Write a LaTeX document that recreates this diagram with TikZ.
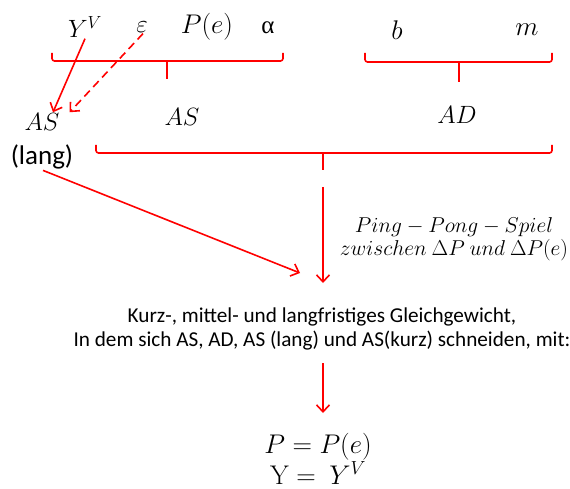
\documentclass[tikz,border=0pt]{standalone}
\usepackage{fix-cm}
\usepackage[no-math]{fontspec}
\setmainfont{Carlito}
\newfontfamily\grkfont{Liberation Serif}
\usetikzlibrary{arrows.meta, calc}

\begin{document}
\begin{tikzpicture}[
        x=1pt, y=-1pt,
        >=Stealth,
        % Styles
        var/.style={inner sep=1pt, font=\fontsize{25}{28}\selectfont},
        small_var/.style={inner sep=1pt, font=\fontsize{21.5}{23}\selectfont, align=center},
        txt/.style={inner sep=1pt, font=\fontsize{21.2}{24}\selectfont, align=center},
        brace/.style={draw=red, line width=1.6pt, rounded corners=2.5pt},
        arrow/.style={-{Straight Barb[length=7pt, width=13pt]}, line width=1.6pt, draw=red}
    ]
    \useasboundingbox (0,0) rectangle (570,489);

    % Exogenous variables (top row)
    \node[var] (yv) at (85,27) {$Y^V$};
    \node[var] (eps) at (142,27) {$\varepsilon$};
    \node[var, font=\fontsize{27}{28}\selectfont] (pe) at (207,27) {$P(e)$};
    \node[var, font=\grkfont\fontsize{25}{28}\selectfont] (alpha) at (268,28) {α};
    \node[var, font=\fontsize{27}{28}\selectfont] (b) at (397,30) {$b$};
    \node[var, font=\fontsize{27}{28}\selectfont] (m) at (527,30) {$m$};

    % Braces
    \draw[brace] (52,53) -- (52,61) -- (283,61) -- (283,53);
    \draw[brace] (167,61) -- (167,79);
    \draw[brace] (365,53) -- (365,62) -- (552,62) -- (552,53);
    \draw[brace] (459,62) -- (459,82);
    \draw[brace] (96,145) -- (96,153) -- (552,153) -- (552,145);
    \draw[brace] (323,153) -- (323,170) coordinate (all_tick);

    % Curves
    \node[var] (as_lang) at (42,122) {$AS$};
    \node[txt, font=\fontsize{27}{30}\selectfont] (lang) at (42,157) {(lang)};
    \node[var] (as) at (182,117) {$AS$};
    \node[var] (ad) at (457,115) {$AD$};

    \draw[arrow] (yv.south) -- ($(as_lang.north)+(11,0)$);
    \draw[arrow, dash pattern=on 8pt off 5pt] ($(eps.south)+(1,0)$) -- ($(as_lang.north east)+(9,0)$);

    % Ping-Pong
    \node[small_var] (ping) at (454,239) {$Ping-Pong-Spiel$\\$zwischen\ \Delta P\ und\ \Delta P(e)$};
    \coordinate (meet) at (300,273);
    \draw[arrow] ($(lang.south)+(1,0)$) -- (meet);
    \draw[arrow] ($(all_tick)+(0,17)$) -- (323,283);

    % Equilibrium
    \node[txt] (gg) at (322,329) {Kurz-, mittel- und langfristiges Gleichgewicht,\\In dem sich AS, AD, AS (lang) und AS(kurz) schneiden, mit:};
    \node[var, align=center, font=\fontsize{27}{25}\selectfont] (res) at (318,459) {$P=P(e)$\\$\mathrm{Y}=\ Y^V$};
    \draw[arrow] ($(gg.south)+(1,12)$) -- (323,413);

\end{tikzpicture}
\end{document}
